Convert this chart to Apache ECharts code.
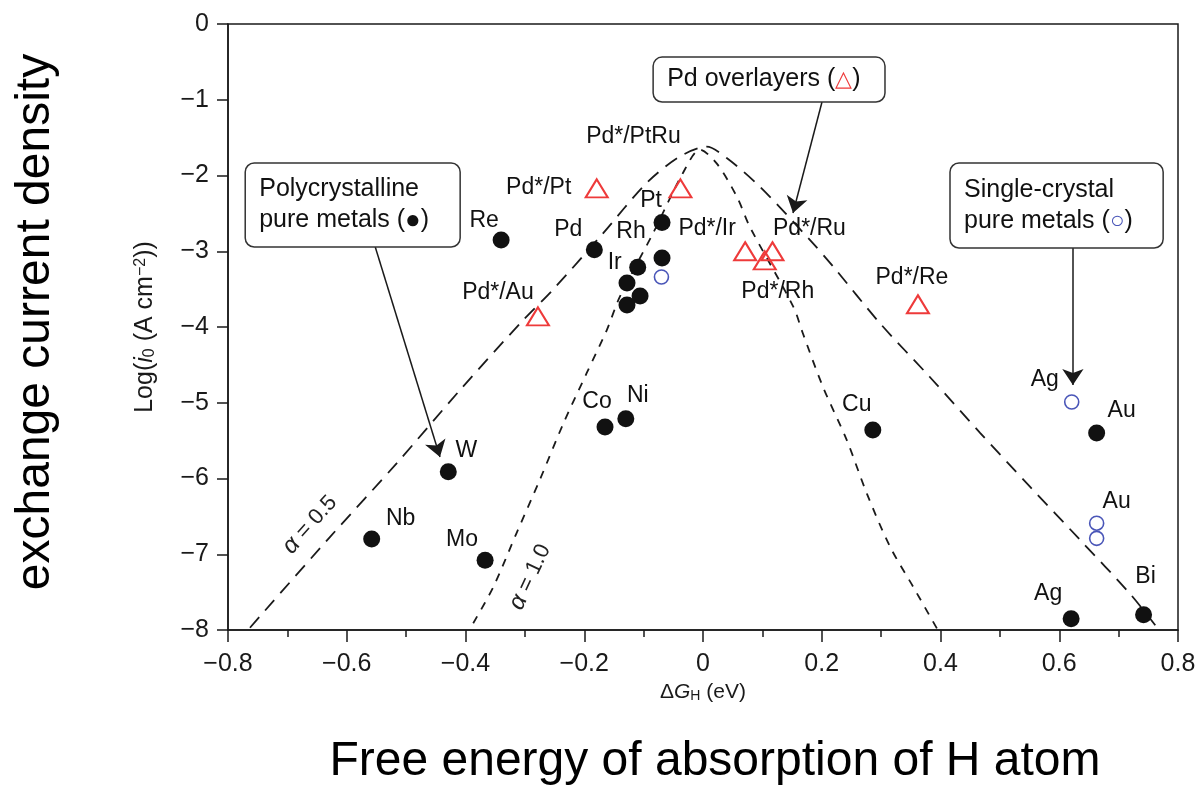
<!DOCTYPE html>
<html>
<head>
<meta charset="utf-8">
<script src="https://cdn.jsdelivr.net/npm/echarts@6/dist/echarts.min.js"></script>
<style>
  html, body { margin: 0; background: #fff; }
  #chart { width: 1202px; height: 789px; }
</style>
</head>
<body>
<div id="chart"></div>
<script>
// volcano plot: exchange current density vs. hydrogen adsorption free energy
const font = '"Liberation Sans", Arial, sans-serif';
const ink = '#1a1a1a';

// polycrystalline pure metals (filled black)
const polyNames = ['Re', 'Pd', 'Pt', 'Rh', 'Ir', '', '', '', 'W', 'Nb', 'Mo', 'Co', 'Ni', 'Cu', 'Au', 'Ag', 'Bi'];
const polyX = [-0.340, -0.183, -0.069, -0.069, -0.110, -0.128, -0.106, -0.128, -0.429, -0.558, -0.367, -0.165, -0.130, 0.286, 0.663, 0.620, 0.742];
const polyY = [-2.85, -2.98, -2.62, -3.09, -3.21, -3.42, -3.59, -3.71, -5.91, -6.80, -7.08, -5.32, -5.21, -5.36, -5.40, -7.85, -7.80];

// single-crystal pure metals (open blue)
const singleNames = ['', 'Ag', 'Au', ''];
const singleX = [-0.070, 0.621, 0.663, 0.663];
const singleY = [-3.34, -4.99, -6.59, -6.79];

// Pd overlayers (open red triangles)
const overNames = ['Pd*/Pt', 'Pd*/PtRu', 'Pd*/Au', 'Pd*/Ir', 'Pd*/Ru', 'Pd*/Rh', 'Pd*/Re'];
const overX = [-0.179, -0.038, -0.278, 0.071, 0.117, 0.104, 0.362];
const overY = [-2.17, -2.17, -3.86, -3.00, -3.00, -3.12, -3.70];

// dashed model curves
const alpha05X = [-0.763, -0.628, -0.516, -0.409, -0.303, -0.253, -0.168, -0.095, -0.039, 0.006, 0.040, 0.096, 0.180, 0.219, 0.298, 0.382, 0.467, 0.551, 0.635, 0.719, 0.764];
const alpha05Y = [-7.97, -6.77, -5.80, -4.83, -3.91, -3.51, -2.76, -2.10, -1.75, -1.62, -1.77, -2.15, -2.85, -3.20, -3.95, -4.66, -5.40, -6.11, -6.81, -7.52, -7.96];
const alpha10X = [-0.387, -0.353, -0.314, -0.275, -0.235, -0.196, -0.162, -0.140, -0.084, -0.034, -0.005, 0.023, 0.057, 0.079, 0.152, 0.168, 0.202, 0.242, 0.276, 0.315, 0.354, 0.394];
const alpha10Y = [-7.91, -7.43, -6.72, -6.02, -5.27, -4.61, -4.04, -3.60, -2.76, -1.97, -1.66, -1.84, -2.28, -2.68, -3.73, -4.08, -4.79, -5.49, -6.20, -6.90, -7.43, -7.98];

const xTicks = [-0.8, -0.6, -0.4, -0.2, 0, 0.2, 0.4, 0.6, 0.8];
const yTicks = [0, -1, -2, -3, -4, -5, -6, -7, -8];

// label offsets (px) from each marker, keyed by series and name
const labelOffsets = {
  poly: { Re: [-17, -19], Pd: [-26, -20], Pt: [-11, -22], Rh: [-31, -26], Ir: [-23, -5], W: [18, -21], Nb: [29, -20], Mo: [-23, -21], Co: [-8, -25], Ni: [12, -23], Cu: [-16, -25], Au: [25, -22], Ag: [-23, -25], Bi: [2, -38] },
  single: { Ag: [-27, -22], Au: [20, -22] },
  over: { 'Pd*/Pt': [-58, -1], 'Pd*/PtRu': [-47, -52], 'Pd*/Au': [-40, -24], 'Pd*/Ir': [-38, -23], 'Pd*/Ru': [37, -23], 'Pd*/Rh': [13, 31], 'Pd*/Re': [-6, -27] }
};

// callouts in data units
const boxes = [
  { from: [-0.771, -1.835], to: [-0.409, -2.944], lines: ['Polycrystalline', 'pure metals ({k|●})'] },
  { from: [-0.084, -0.436], to: [0.3065, -1.03], lines: ['Pd overlayers ({r|△})'] },
  { from: [0.416, -1.835], to: [0.775, -2.957], lines: ['Single-crystal', 'pure metals ({b|○})'] }
];
const arrows = [
  [[-0.552, -2.944], [-0.443, -5.716]],
  [[0.2004, -1.03], [0.1516, -2.495]],
  [[0.623, -2.957], [0.623, -4.766]]
];
const alphaLabels = [
  { at: [-0.662, -6.61], text: '{a|α} = 0.5', angle: 48 },
  { at: [-0.291, -7.30], text: '{a|α} = 1.0', angle: 65 }
];

function pointData(xs, ys, names, key) {
  return xs.map((x, i) => {
    const name = names[i];
    const off = labelOffsets[key][name];
    return {
      value: [x, ys[i]],
      name: name,
      label: off ? { show: true, offset: off } : { show: false }
    };
  });
}

function minus(v, digits) {
  if (v === 0) return '0';
  return (v < 0 ? '\u2212' : '') + Math.abs(v).toFixed(digits);
}

const pointLabel = {
  show: true,
  position: 'inside',
  formatter: p => p.name,
  color: '#111',
  fontSize: 23,
  fontFamily: font
};

const container = document.getElementById('chart');
const chart = echarts.init(container, null, { renderer: 'canvas' });

chart.setOption({
  animation: false,
  backgroundColor: '#fff',
  grid: { left: 228, right: 24, top: 24, bottom: 159, show: true, borderColor: ink, borderWidth: 1.5 },
  xAxis: {
    type: 'value', min: -0.8, max: 0.8, interval: 0.2,
    name: '{d|Δ}{g|G}{s|H}{n| (eV)}',
    nameLocation: 'middle', nameGap: 48,
    nameTextStyle: {
      rich: {
        d: { fontSize: 21, fontFamily: font, color: ink },
        g: { fontSize: 21, fontFamily: font, fontStyle: 'italic', color: ink },
        s: { fontSize: 14, fontFamily: font, color: ink, verticalAlign: 'bottom', padding: [8, 0, 0, 0] },
        n: { fontSize: 21, fontFamily: font, color: ink }
      }
    },
    axisLine: { onZero: false, lineStyle: { color: ink, width: 1.5 } },
    axisTick: { length: 12, lineStyle: { color: ink, width: 1.5 } },
    minorTick: { show: true, splitNumber: 2, length: 7, lineStyle: { color: ink, width: 1.5 } },
    splitLine: { show: false },
    axisLabel: { margin: 22, fontSize: 25, fontFamily: font, color: ink, formatter: v => minus(v, 1), customValues: xTicks }
  },
  yAxis: {
    type: 'value', min: -8, max: 0, interval: 1,
    name: '{n|Log(}{i|i}{s|0}{n| (A cm}{p|\u22122}{n|))}',
    nameLocation: 'middle', nameGap: 70, nameRotate: 90,
    nameTextStyle: {
      rich: {
        n: { fontSize: 25, fontFamily: font, color: ink },
        i: { fontSize: 25, fontFamily: font, fontStyle: 'italic', color: ink },
        s: { fontSize: 16, fontFamily: font, color: ink, verticalAlign: 'bottom', padding: [9, 0, 0, 0] },
        p: { fontSize: 16, fontFamily: font, color: ink, verticalAlign: 'top', padding: [0, 0, 9, 0] }
      }
    },
    axisLine: { onZero: false, lineStyle: { color: ink, width: 1.5 } },
    axisTick: { length: 11, lineStyle: { color: ink, width: 1.5 } },
    splitLine: { show: false },
    axisLabel: { margin: 19, fontSize: 25, fontFamily: font, color: ink, formatter: v => minus(v, 0), customValues: yTicks }
  },
  series: [
    {
      type: 'line', name: 'alpha 0.5', smooth: 0.3, showSymbol: false, symbol: 'none', z: 1,
      data: alpha05X.map((x, i) => [x, alpha05Y[i]]),
      lineStyle: { color: ink, width: 1.8, type: [14, 9] }
    },
    {
      type: 'line', name: 'alpha 1.0', smooth: 0.3, showSymbol: false, symbol: 'none', z: 1,
      data: alpha10X.map((x, i) => [x, alpha10Y[i]]),
      lineStyle: { color: ink, width: 1.8, type: [8, 8] }
    },
    {
      type: 'lines', coordinateSystem: 'cartesian2d', z: 2,
      symbol: ['none', 'arrow'], symbolSize: [9, 16],
      lineStyle: { color: ink, width: 1.5, opacity: 1 },
      data: arrows.map(a => ({ coords: a }))
    },
    {
      type: 'scatter', name: 'Polycrystalline', z: 4,
      symbol: 'circle', symbolSize: 17,
      itemStyle: { color: '#111', opacity: 1 },
      label: pointLabel,
      data: pointData(polyX, polyY, polyNames, 'poly')
    },
    {
      type: 'scatter', name: 'Single-crystal', z: 4,
      symbol: 'circle', symbolSize: 14,
      itemStyle: { color: 'rgba(255,255,255,0)', borderColor: '#4a56b8', borderWidth: 1.6, opacity: 1 },
      label: pointLabel,
      data: pointData(singleX, singleY, singleNames, 'single')
    },
    {
      type: 'scatter', name: 'Pd overlayers', z: 4,
      symbol: 'triangle', symbolSize: [22, 18],
      itemStyle: { color: 'rgba(255,255,255,0)', borderColor: '#ee3a3a', borderWidth: 2, opacity: 1 },
      label: pointLabel,
      data: pointData(overX, overY, overNames, 'over')
    }
  ]
});

// callout boxes, alpha labels and the two big captions
const px = p => chart.convertToPixel({ gridIndex: 0 }, p);
const boxRich = {
  k: { fontSize: 26, fontFamily: font, fill: '#111' },
  r: { fontSize: 22, fontFamily: font, fill: '#ee3a3a' },
  b: { fontSize: 24, fontFamily: font, fill: '#4a56b8' }
};
const graphics = [];
boxes.forEach(b => {
  const a = px(b.from), c = px(b.to);
  graphics.push({
    type: 'rect', z: 10,
    shape: { x: a[0], y: a[1], width: c[0] - a[0], height: c[1] - a[1], r: 9 },
    style: { fill: '#fff', stroke: '#333', lineWidth: 1.5 }
  });
  graphics.push({
    type: 'text', z: 11,
    x: a[0] + 14, y: (a[1] + c[1]) / 2,
    style: {
      text: b.lines.join('\n'), fill: '#111', fontSize: 25, fontFamily: font,
      lineHeight: 31, align: 'left', verticalAlign: 'middle', rich: boxRich
    }
  });
});
alphaLabels.forEach(l => {
  const p = px(l.at);
  graphics.push({
    type: 'text', z: 11, x: p[0], y: p[1], rotation: l.angle * Math.PI / 180,
    style: {
      text: l.text, fill: '#222', fontSize: 22, fontFamily: font, align: 'center', verticalAlign: 'middle',
      rich: { a: { fontSize: 24, fontFamily: font, fontStyle: 'italic', fill: '#222' } }
    }
  });
});
graphics.push({
  type: 'text', x: 36, y: 322, rotation: Math.PI / 2,
  style: { text: 'exchange current density', fill: '#000', fontSize: 48, fontFamily: font, align: 'center', verticalAlign: 'middle' }
});
graphics.push({
  type: 'text', x: 715, y: 762,
  style: { text: 'Free energy of absorption of H atom', fill: '#000', fontSize: 48, fontFamily: font, align: 'center', verticalAlign: 'middle' }
});
chart.setOption({ graphic: graphics });
</script>
</body>
</html>
